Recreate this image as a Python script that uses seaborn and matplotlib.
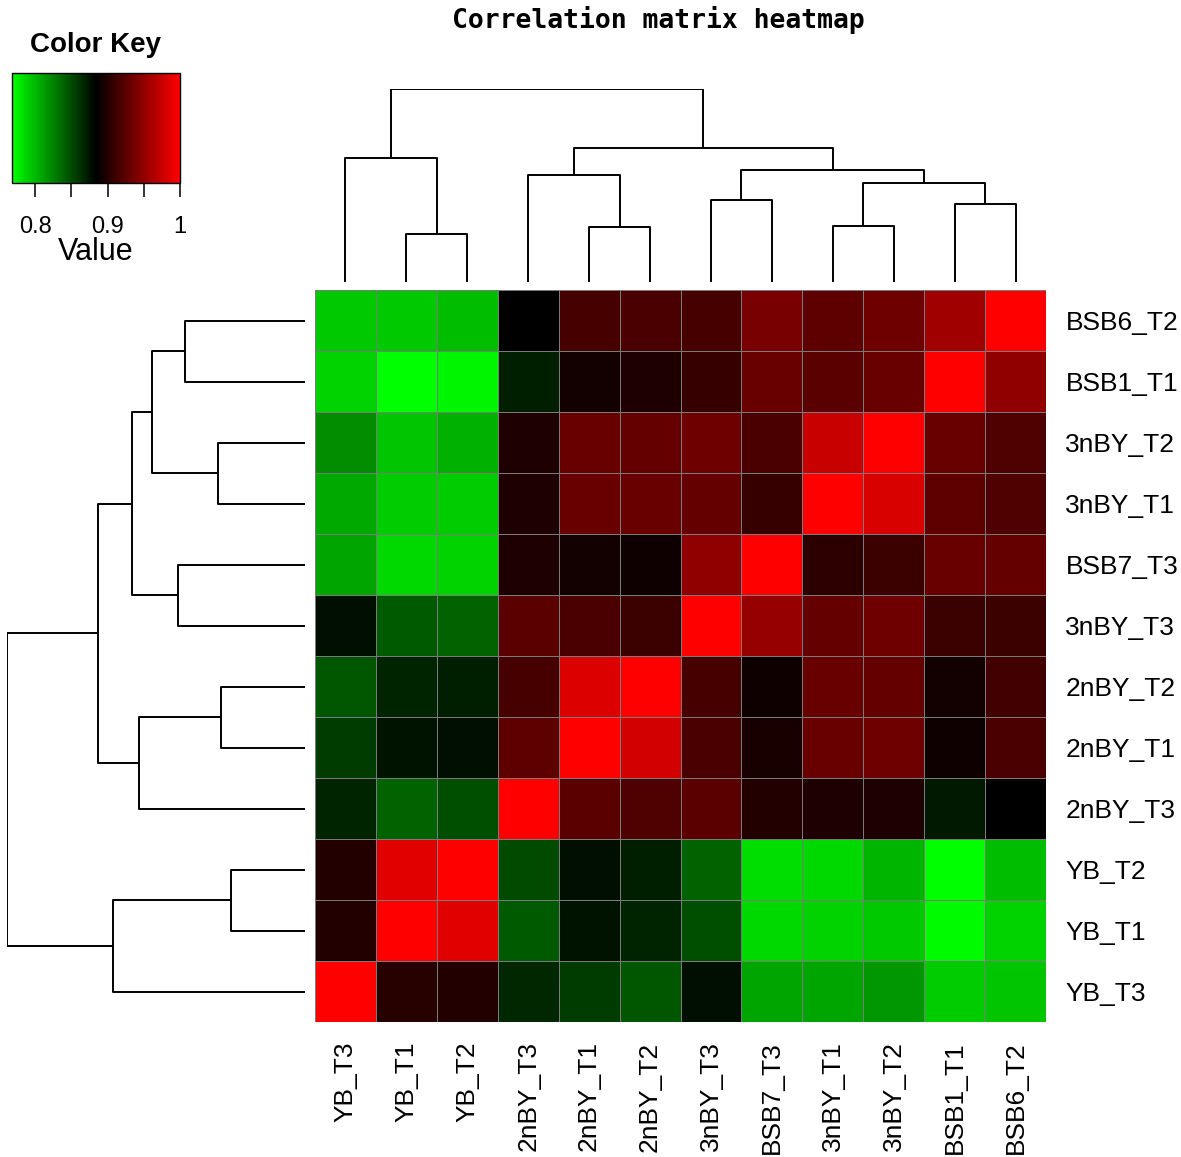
import numpy as np
import pandas as pd
import matplotlib
matplotlib.use('Agg')
import matplotlib.pyplot as plt
from matplotlib.colors import LinearSegmentedColormap
import seaborn as sns

# plot setting
sns.set_style('white')
plt.rcParams['font.family'] = ['Liberation Sans', 'DejaVu Sans']
plt.rcParams['text.color'] = 'black'
plt.rcParams['xtick.color'] = 'black'
plt.rcParams['ytick.color'] = 'black'

# --- data ---
# sample order of the columns (left to right); rows are the same order bottom to top
col_order = ['YB_T3', 'YB_T1', 'YB_T2', '2nBY_T3', '2nBY_T1', '2nBY_T2',
             '3nBY_T3', 'BSB7_T3', '3nBY_T1', '3nBY_T2', 'BSB1_T1', 'BSB6_T2']
row_order = col_order[::-1]

# correlation values, rows top to bottom (row_order) x columns (col_order)
r_bsb6_t2 = [0.793, 0.793, 0.798, 0.884, 0.916, 0.918, 0.916, 0.939, 0.927, 0.934, 0.957, 1.000]
r_bsb1_t1 = [0.788, 0.768, 0.773, 0.870, 0.893, 0.898, 0.909, 0.932, 0.925, 0.932, 1.000, 0.950]
r_3nby_t2 = [0.820, 0.795, 0.804, 0.898, 0.932, 0.930, 0.934, 0.918, 0.975, 1.000, 0.932, 0.920]
r_3nby_t1 = [0.807, 0.791, 0.791, 0.898, 0.932, 0.932, 0.930, 0.909, 1.000, 0.982, 0.927, 0.920]
r_bsb7_t3 = [0.809, 0.786, 0.788, 0.898, 0.893, 0.891, 0.950, 1.000, 0.904, 0.911, 0.932, 0.930]
r_3nby_t3 = [0.877, 0.843, 0.839, 0.925, 0.918, 0.911, 1.000, 0.952, 0.930, 0.934, 0.911, 0.911]
r_2nby_t2 = [0.845, 0.868, 0.870, 0.916, 0.984, 1.000, 0.916, 0.891, 0.932, 0.930, 0.893, 0.914]
r_2nby_t1 = [0.857, 0.875, 0.877, 0.927, 1.000, 0.980, 0.918, 0.895, 0.932, 0.934, 0.891, 0.918]
r_2nby_t3 = [0.868, 0.839, 0.848, 1.000, 0.925, 0.920, 0.925, 0.900, 0.898, 0.898, 0.873, 0.884]
r_yb_t2 = [0.900, 0.986, 1.000, 0.850, 0.877, 0.870, 0.839, 0.784, 0.786, 0.802, 0.768, 0.798]
r_yb_t1 = [0.900, 1.000, 0.986, 0.843, 0.875, 0.868, 0.848, 0.786, 0.788, 0.793, 0.770, 0.788]
r_yb_t3 = [1.000, 0.902, 0.900, 0.866, 0.857, 0.845, 0.877, 0.809, 0.809, 0.816, 0.791, 0.795]

# hierarchical merges (relative height, root = 1); ints refer to earlier merges
merges = [
    ('YB_T1', 'YB_T2', 0.248),      # 0
    ('YB_T3', 0, 0.643),            # 1
    ('2nBY_T1', '2nBY_T2', 0.283),  # 2
    ('2nBY_T3', 2, 0.556),          # 3
    ('3nBY_T3', 'BSB7_T3', 0.426),  # 4
    ('3nBY_T1', '3nBY_T2', 0.291),  # 5
    ('BSB1_T1', 'BSB6_T2', 0.403),  # 6
    (5, 6, 0.515),                  # 7
    (4, 7, 0.580),                  # 8
    (3, 8, 0.696),                  # 9
    (1, 9, 1.000),                  # 10
]

key_min, key_max = 0.768, 1.0

df = pd.DataFrame([r_bsb6_t2, r_bsb1_t1, r_3nby_t2, r_3nby_t1, r_bsb7_t3, r_3nby_t3,
                   r_2nby_t2, r_2nby_t1, r_2nby_t3, r_yb_t2, r_yb_t1, r_yb_t3],
                  index=row_order, columns=col_order)

greenred = LinearSegmentedColormap.from_list('greenred', ['#00ff00', '#000000', '#ff0000'], N=256)


# draw a dendrogram; positions come from the leaf order (cell centres)
def draw_dendro(ax, order, vertical):
    pos = {name: i + 0.5 for i, name in enumerate(order)}
    node_pos, node_h = [], []
    for a, b, h in merges:
        pa = node_pos[a] if isinstance(a, int) else pos[a]
        pb = node_pos[b] if isinstance(b, int) else pos[b]
        ha = node_h[a] if isinstance(a, int) else 0.0
        hb = node_h[b] if isinstance(b, int) else 0.0
        xs = [pa, pa, pb, pb]
        ys = [ha, h, h, hb]
        if vertical:
            ax.plot(xs, ys, color='black', lw=1.4, solid_capstyle='butt')
        else:
            ax.plot(ys, xs, color='black', lw=1.4, solid_capstyle='butt')
        node_pos.append((pa + pb) / 2)
        node_h.append(h)
    ax.axis('off')


W, H = 1181, 1157
fig = plt.figure(figsize=(W / 100, H / 100), dpi=100)


def px_axes(x0, y0, x1, y1):
    return fig.add_axes([x0 / W, 1 - y1 / H, (x1 - x0) / W, (y1 - y0) / H])


ax_heat = px_axes(315, 290, 1046, 1022)
ax_col = px_axes(315, 89, 1046, 282)
ax_row = px_axes(7, 290, 305, 1022)
ax_key = px_axes(12, 73, 180, 183)

sns.heatmap(df, ax=ax_heat, cmap=greenred, vmin=key_min, vmax=key_max,
            linewidths=0.6, linecolor='#7a7a7a', cbar_ax=ax_key,
            cbar_kws={'orientation': 'horizontal'})

# tick labels
ax_heat.yaxis.tick_right()
ax_heat.set_yticklabels(row_order, rotation=0, fontsize=19)
ax_heat.set_xticklabels(col_order, rotation=90, fontsize=19)
ax_heat.tick_params(axis='y', length=0, pad=14)
ax_heat.tick_params(axis='x', length=0, pad=14)
ax_heat.set_xlabel('')
ax_heat.set_ylabel('')

# dendrograms
draw_dendro(ax_col, col_order, vertical=True)
ax_col.set_xlim(0, len(col_order))
ax_col.set_ylim(0, 1)

draw_dendro(ax_row, row_order, vertical=False)
ax_row.set_ylim(len(row_order), 0)
ax_row.set_xlim(1, 0)

# color key
cbar = ax_heat.collections[0].colorbar
cbar.set_ticks([0.8, 0.85, 0.9, 0.95, 1.0])
cbar.set_ticklabels(['0.8', '', '0.9', '', '1'])
ax_key.tick_params(axis='x', length=10, width=1.4, labelsize=17, pad=14, color='#333333')
cbar.outline.set_edgecolor('black')
cbar.outline.set_linewidth(1.0)
fig.text(96 / W, 1 - 45 / H, 'Color Key', ha='center', va='center', fontsize=20, fontweight='bold')
fig.text(96 / W, 1 - 252 / H, 'Value', ha='center', va='center', fontsize=22)

# title
fig.text(658 / W, 1 - 20 / H, 'Correlation matrix heatmap', ha='center', va='center',
         fontsize=19, fontweight='bold', family='DejaVu Sans Mono')

plt.savefig('out.png', dpi=100)
plt.close()
